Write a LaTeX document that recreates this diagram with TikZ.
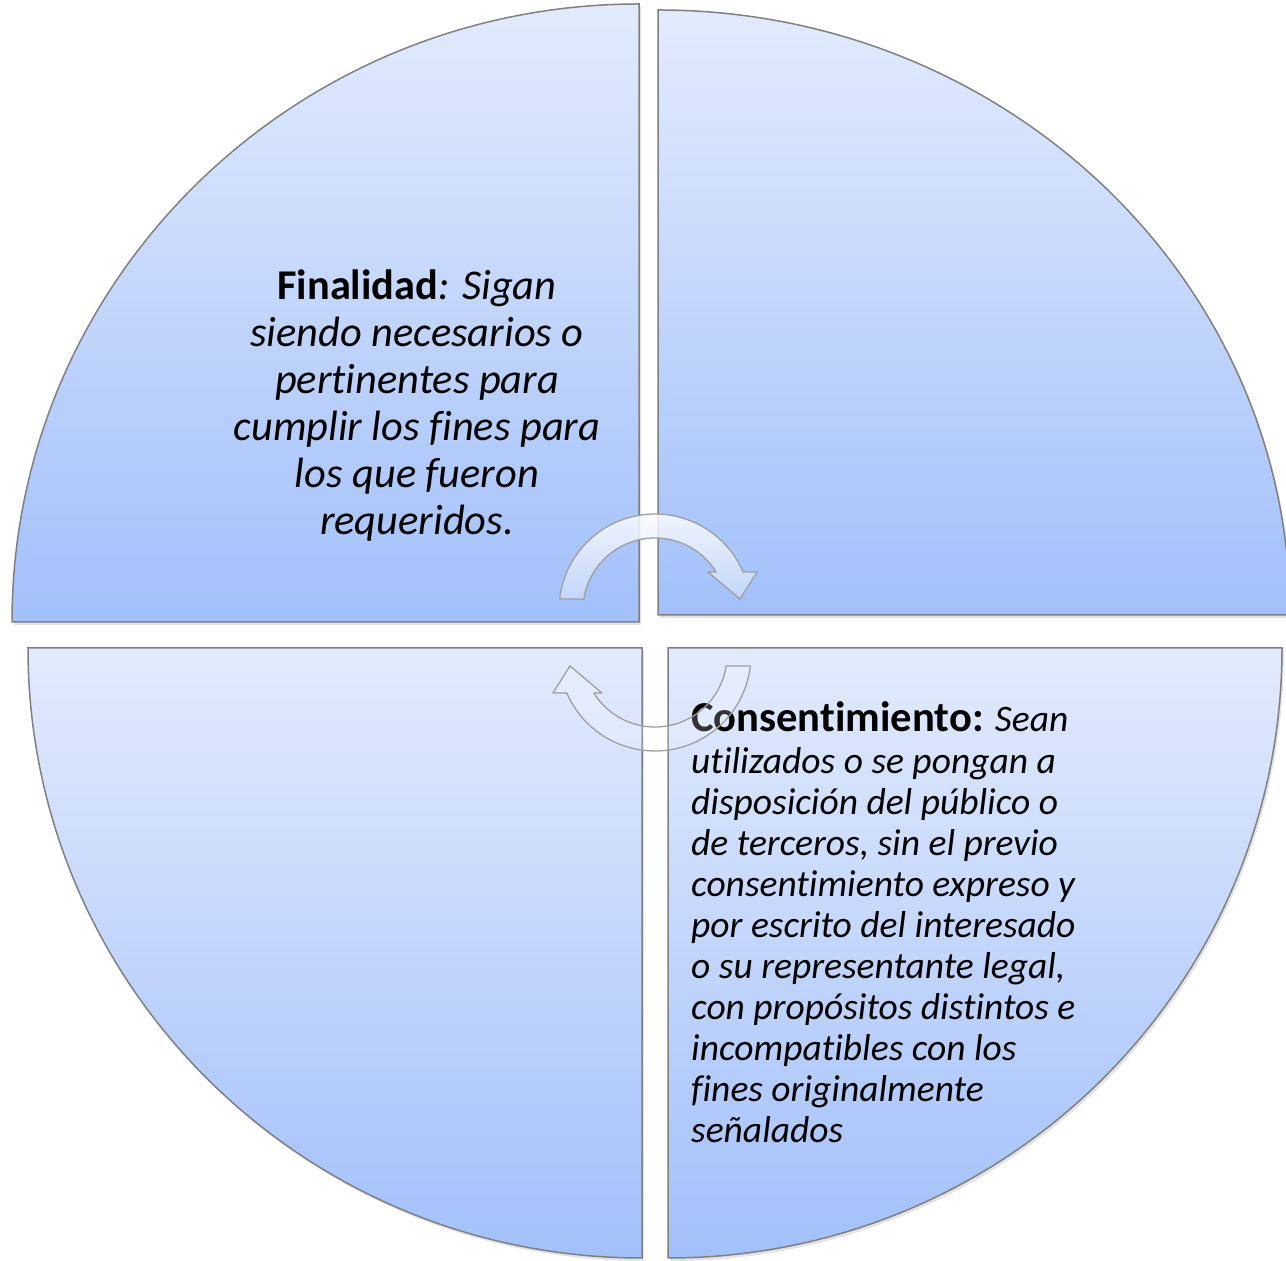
\documentclass[tikz,border=0pt]{standalone}
\usepackage{fontspec}
\setmainfont{Carlito}[Ligatures=NoCommon]
\usetikzlibrary{shadows}
\definecolor{qtop}{RGB}{226,235,253}
\definecolor{qbot}{RGB}{162,192,250}
\definecolor{qline}{RGB}{128,128,128}
\definecolor{abot}{RGB}{200,218,250}
\tikzset{
  quad/.style={draw=qline, line width=1.5pt, top color=qtop, bottom color=qbot,
    drop shadow={shadow xshift=2pt, shadow yshift=-3pt, opacity=0.22}},
  cyclearrow/.style={draw=gray!75, line width=1.3pt, line join=round},
  bodytext/.style={inner sep=0pt, text=black}
}
\begin{document}
\begin{tikzpicture}[x=1pt,y=1pt]
\useasboundingbox (0,0) rectangle (1286,1261);
\clip (0,0) rectangle (1286,1261);
\fill[white] (0,0) rectangle (1286,1261);
% quadrants
\path[quad] (639,639) -- ++(-627,0) arc[start angle=180,end angle=90,x radius=627,y radius=618] -- cycle;
\path[quad] (658,646) -- ++(0,605) arc[start angle=90,end angle=0,x radius=632,y radius=605] -- cycle;
\path[quad] (642,613) -- ++(-614,0) arc[start angle=180,end angle=270,x radius=614,y radius=610] -- cycle;
\path[quad] (668,613) -- ++(614,0) arc[start angle=0,end angle=-90,x radius=614,y radius=610] -- cycle;
% texts (anchor = baseline of the last line)
\node[bodytext, anchor=base, align=center, font=\fontsize{42.4}{47}\selectfont] (fin) at (417,726)
 {\textbf{Finalidad}\textit{: Sigan}\\
  \textit{siendo necesarios o}\\
  \textit{pertinentes para}\\
  \textit{cumplir los fines para}\\
  \textit{los que fueron}\\
  \textit{requeridos.}};
\node[bodytext, anchor=base west, align=left, font=\fontsize{37.5}{41.1}\selectfont] (con) at (691,118)
 {{\fontsize{42.6}{41.1}\selectfont\textbf{Consentimiento:}} \textit{Sean}\\
  \textit{utilizados o se pongan a}\\
  \textit{disposición del público o}\\
  \textit{de terceros, sin el previo}\\
  \textit{consentimiento expreso y}\\
  \textit{por escrito del interesado}\\
  \textit{o su representante legal,}\\
  \textit{con propósitos distintos e}\\
  \textit{incompatibles con los}\\
  \textit{fines originalmente}\\
  \textit{señalados}};
% cycle arrows
\begin{scope}[shift={(655,651)}]
\path[cyclearrow, top color=white, bottom color=abot, fill opacity=0.85]
  (173.4:96) arc[start angle=173.4,end angle=23.4,radius=96] -- (102,38) -- (85,11) -- (53,38)
  -- (31.8:72) arc[start angle=31.8,end angle=171.2,radius=72] -- cycle;
\end{scope}
\begin{scope}[shift={(655,606)}, rotate=180]
\path[cyclearrow, fill=white, fill opacity=0.2]
  (173.4:96) arc[start angle=173.4,end angle=23.4,radius=96] -- (102,38) -- (85,11) -- (53,38)
  -- (31.8:72) arc[start angle=31.8,end angle=171.2,radius=72] -- cycle;
\end{scope}
\end{tikzpicture}
\end{document}
